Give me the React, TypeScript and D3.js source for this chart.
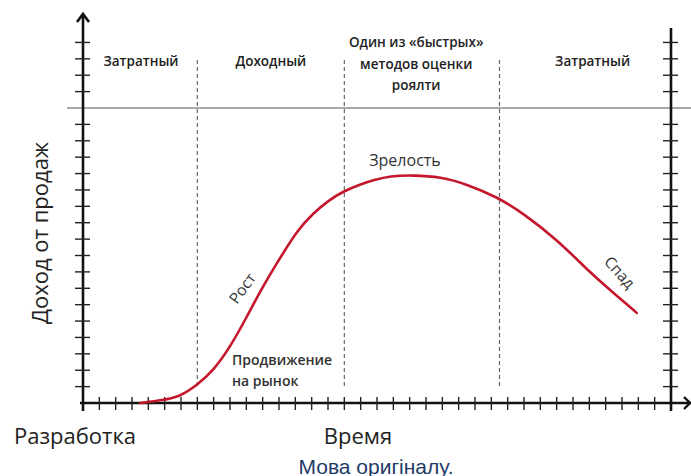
import React, { useEffect, useRef } from "react";
import * as d3 from "d3";

// curve: time in tick units, revenue in tick units
const timeX = [3.5, 4.9, 5.9, 7.0, 8.0, 9.0, 10.0, 11.0, 12.1, 13.1, 14.1, 15.1, 15.9, 17.0, 17.8, 18.8, 20.2, 21.9, 23.5, 25.4, 26.9, 29.0, 31.0, 32.5, 33.9];
const revenue = [0, 0.18, 0.37, 1.1, 2.0, 3.4, 5.2, 7.1, 8.9, 10.5, 11.6, 12.4, 12.9, 13.35, 13.6, 13.85, 13.9, 13.8, 13.35, 12.55, 11.6, 10.0, 8.0, 6.7, 5.5];

const dividers = [7, 16, 25.5];
const phaseCenters = [3.55, 11.5, 20.4, 31.2];
const phaseLabels = [["Затратный"], ["Доходный"], ["Один из «быстрых»", "методов оценки", "роялти"], ["Затратный"]];

const xTickCount = 36;
const yTickCount = 22;
const zeroLine = 18;

const App: React.FC = () => {
  const svgRef = useRef<SVGSVGElement | null>(null);

  useEffect(() => {
    if (!svgRef.current) return;
    const svg = d3.select(svgRef.current);
    svg.selectAll("*").remove();

    const width = 691;
    const height = 476;
    svg.attr("width", width).attr("height", height);

    const x = d3.scaleLinear().domain([0, xTickCount]).range([83, 671]);
    const y = d3.scaleLinear().domain([0, zeroLine]).range([403, 108]);
    const font = "'Open Sans', sans-serif";

    // horizontal zero line
    svg.append("line")
      .attr("x1", 67).attr("x2", width)
      .attr("y1", y(zeroLine)).attr("y2", y(zeroLine))
      .attr("stroke", "#555").attr("stroke-width", 1.2);

    // dashed dividers
    svg.selectAll(".div")
      .data(dividers)
      .enter()
      .append("line")
      .attr("x1", (d) => x(d)).attr("x2", (d) => x(d))
      .attr("y1", 60).attr("y2", 389)
      .attr("stroke", "#666").attr("stroke-width", 1.2)
      .attr("stroke-dasharray", "4,3");

    // x axis
    svg.append("line")
      .attr("x1", x(0) - 3).attr("x2", width)
      .attr("y1", y(0)).attr("y2", y(0))
      .attr("stroke", "#111").attr("stroke-width", 2.6);
    svg.selectAll(".xt")
      .data(d3.range(1, xTickCount + 1))
      .enter()
      .append("line")
      .attr("x1", (d) => x(d)).attr("x2", (d) => x(d))
      .attr("y1", y(0) - 6).attr("y2", y(0) + 7)
      .attr("stroke", "#222").attr("stroke-width", 1.4);
    svg.append("path")
      .attr("d", `M${width - 7},${y(0) - 6} L${width - 1},${y(0)} L${width - 7},${y(0) + 6}`)
      .attr("fill", "none").attr("stroke", "#111").attr("stroke-width", 2.4);

    // left axis with arrow
    svg.append("line")
      .attr("x1", x(0)).attr("x2", x(0))
      .attr("y1", 15).attr("y2", y(0) + 8)
      .attr("stroke", "#111").attr("stroke-width", 2.6);
    svg.append("path")
      .attr("d", `M${x(0) - 6},${22} L${x(0)},${14} L${x(0) + 6},${22}`)
      .attr("fill", "none").attr("stroke", "#111").attr("stroke-width", 2.6);
    const yTicks = d3.range(1, yTickCount + 1).filter((d) => d !== zeroLine);
    svg.selectAll(".ylt")
      .data(yTicks)
      .enter()
      .append("line")
      .attr("x1", x(0) - 8).attr("x2", x(0) + 7)
      .attr("y1", (d) => y(d)).attr("y2", (d) => y(d))
      .attr("stroke", "#222").attr("stroke-width", 1.4);

    // right axis
    svg.append("line")
      .attr("x1", x(xTickCount)).attr("x2", x(xTickCount))
      .attr("y1", 28).attr("y2", y(0) + 8)
      .attr("stroke", "#111").attr("stroke-width", 2.6);
    svg.selectAll(".yrt")
      .data(yTicks)
      .enter()
      .append("line")
      .attr("x1", x(xTickCount) - 8).attr("x2", x(xTickCount) + 7)
      .attr("y1", (d) => y(d)).attr("y2", (d) => y(d))
      .attr("stroke", "#222").attr("stroke-width", 1.4);

    // curve
    const line = d3.line<number>()
      .x((d) => x(d))
      .y((_, i) => y(revenue[i]))
      .curve(d3.curveBasis);
    svg.append("path")
      .attr("d", line(timeX))
      .attr("fill", "none")
      .attr("stroke", "#c4172c")
      .attr("stroke-width", 2.6)
      .attr("stroke-linecap", "round");

    // phase labels
    phaseLabels.forEach((lines, i) => {
      const startY = lines.length > 1 ? 47 : 66;
      lines.forEach((t, j) => {
        svg.append("text")
          .attr("x", x(phaseCenters[i]))
          .attr("y", startY + j * 21.5)
          .attr("text-anchor", "middle")
          .attr("font-family", font)
          .attr("font-size", 13.5)
          .attr("font-weight", 600)
          .attr("fill", "#222")
          .text(t);
      });
    });

    const label = (t: string, px: number, py: number, size: number, rot = 0, anchor = "middle", weight = 400, fill = "#333") => {
      svg.append("text")
        .attr("transform", `translate(${px},${py}) rotate(${rot})`)
        .attr("text-anchor", anchor)
        .attr("dominant-baseline", "central")
        .attr("font-family", font)
        .attr("font-size", size)
        .attr("font-weight", weight)
        .attr("fill", fill)
        .text(t);
    };

    label("Зрелость", 405, 160, 16);
    label("Рост", 242, 288, 15.5, -54);
    label("Спад", 620, 272, 15.5, 48);
    label("Продвижение", 232, 359, 14, 0, "start", 600);
    label("на рынок", 232, 380, 14, 0, "start", 600);
    label("Доход от продаж", 39, 233, 22, -90, "middle", 400, "#222");
    label("Разработка", 75, 435, 22, 0, "middle", 400, "#222");
    label("Время", 358, 435, 22, 0, "middle", 400, "#222");

    svg.append("text")
      .attr("x", 376).attr("y", 466)
      .attr("text-anchor", "middle")
      .attr("dominant-baseline", "central")
      .attr("font-family", "'Liberation Sans', Arial, sans-serif")
      .attr("font-size", 21)
      .attr("fill", "#1f3a68")
      .text("Мова оригіналу.");
  }, []);

  return <svg ref={svgRef} style={{ position: "absolute", left: 0, top: 0 }}></svg>;
};

export default App;
